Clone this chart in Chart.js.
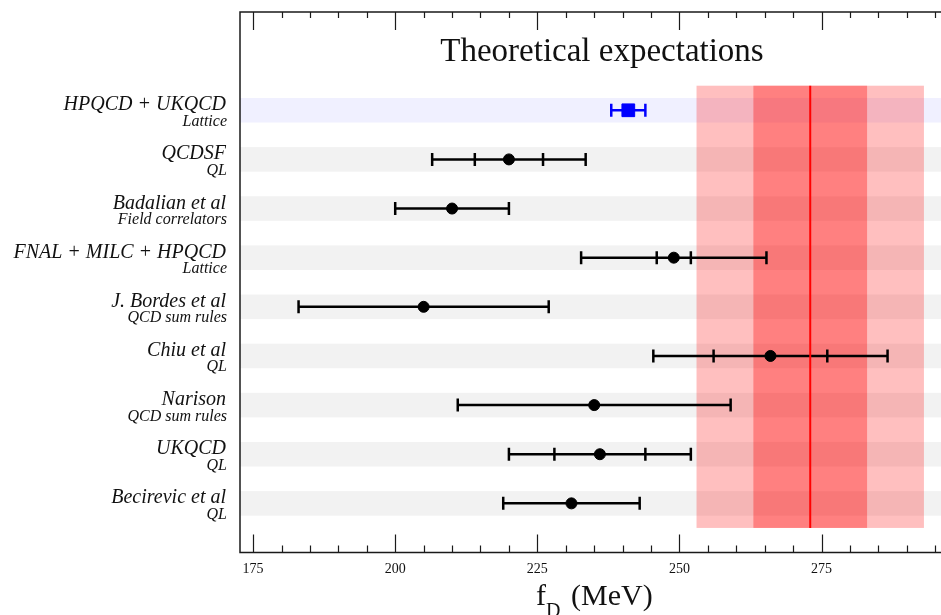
<!DOCTYPE html>
<html>
<head>
<meta charset="utf-8">
<script src="https://cdn.jsdelivr.net/npm/chart.js@4.4.1/dist/chart.umd.min.js"></script>
<style>
  html, body { margin: 0; padding: 0; background: #fff; overflow: hidden; }
  canvas { display: block; }
</style>
</head>
<body>
<canvas id="chart" width="941" height="615"></canvas>
<script>
// ---- data ----
const experiments = ['HPQCD + UKQCD', 'QCDSF', 'Badalian et al', 'FNAL + MILC + HPQCD',
  'J. Bordes et al', 'Chiu et al', 'Narison', 'UKQCD', 'Becirevic et al'];
const methods = ['Lattice', 'QL', 'Field correlators', 'Lattice',
  'QCD sum rules', 'QL', 'QCD sum rules', 'QL', 'QL'];
const fDs = [241, 220, 210, 249, 205, 266, 235, 236, 231];
// inner (statistical) error, null when only one error is shown
const statErr = [null, 6, null, 3, null, 10, null, 8, null];
const totalErr = [3, 13.5, 10, 16.3, 22, 20.6, 24, 16, 12];

const expValue = 273;
const expBands = [20, 10];   // outer and inner band half widths
const xTicks = [175, 200, 225, 250, 275];
const minorStep = 5;

const serif = "'Liberation Serif', 'DejaVu Serif', serif";
const rowY = i => i + 2;

// ---- datasets ----
const datasets = [];

// central values
datasets.push({
  data: fDs.map((v, i) => ({ x: v, y: rowY(i) })),
  pointStyle: fDs.map((v, i) => i === 0 ? 'rect' : 'circle'),
  pointRadius: fDs.map((v, i) => i === 0 ? 9 : 5.5),
  pointBackgroundColor: fDs.map((v, i) => i === 0 ? '#0000ff' : '#000'),
  pointBorderColor: fDs.map((v, i) => i === 0 ? '#0000ff' : '#000'),
  pointBorderWidth: 1
});

// experimental central line
datasets.push({
  data: [{ x: expValue, y: 1.5 }, { x: expValue, y: 10.5 }],
  showLine: true,
  borderColor: '#ff0000',
  borderWidth: 2,
  pointRadius: 0
});

// error bars with caps
experiments.forEach((name, i) => {
  const col = i === 0 ? '#0000ff' : '#000';
  const xs = [fDs[i] - totalErr[i]];
  if (statErr[i]) xs.push(fDs[i] - statErr[i], fDs[i] + statErr[i]);
  xs.push(fDs[i] + totalErr[i]);
  datasets.push({
    data: xs.map(x => ({ x: x, y: rowY(i) })),
    showLine: true,
    borderColor: col,
    borderWidth: 2.5,
    pointStyle: 'line',
    pointRotation: 90,
    pointRadius: 6.5,
    pointBorderColor: col,
    pointBorderWidth: 2.5
  });
});

// ---- drawing helpers ----
const backgroundPlugin = {
  id: 'background',
  beforeDatasetsDraw(chart) {
    const { ctx, chartArea: a, scales: { x, y } } = chart;
    ctx.save();
    // row bands
    experiments.forEach((name, i) => {
      const y1 = y.getPixelForValue(rowY(i) - 0.25);
      const y2 = y.getPixelForValue(rowY(i) + 0.25);
      ctx.fillStyle = i === 0 ? '#f0f0ff' : '#f2f2f2';
      ctx.fillRect(a.left, y1, a.right - a.left, y2 - y1);
    });
    // experimental bands
    const yt = y.getPixelForValue(1.5), yb = y.getPixelForValue(10.5);
    const alphas = [0.25, 0.333];
    expBands.forEach((w, k) => {
      const x1 = x.getPixelForValue(expValue - w);
      const x2 = x.getPixelForValue(expValue + w);
      ctx.fillStyle = 'rgba(255,0,0,' + alphas[k] + ')';
      ctx.fillRect(x1, yt, x2 - x1, yb - yt);
    });
    ctx.restore();
  },
  afterDatasetsDraw(chart) {
    const { ctx, chartArea: a, scales: { x, y } } = chart;
    ctx.save();
    // frame
    ctx.strokeStyle = '#1a1a1a';
    ctx.lineWidth = 1.5;
    ctx.beginPath();
    ctx.moveTo(a.right + 5, a.top); ctx.lineTo(a.left, a.top);
    ctx.lineTo(a.left, a.bottom); ctx.lineTo(a.right + 5, a.bottom);
    ctx.stroke();
    // inward ticks top and bottom
    ctx.lineWidth = 1.2;
    for (let v = xTicks[0]; v <= x.max; v += minorStep) {
      const px = Math.round(x.getPixelForValue(v)) + 0.5;
      const major = (v - xTicks[0]) % 25 === 0;
      ctx.beginPath();
      ctx.moveTo(px, a.bottom); ctx.lineTo(px, a.bottom - (major ? 18 : 7));
      ctx.moveTo(px, a.top); ctx.lineTo(px, a.top + (major ? 18 : 6));
      ctx.stroke();
    }
    // tick labels
    ctx.fillStyle = '#111';
    ctx.font = '14px ' + serif;
    ctx.textAlign = 'center';
    ctx.textBaseline = 'alphabetic';
    xTicks.forEach(v => ctx.fillText(String(v), x.getPixelForValue(v), 573));
    // row labels
    ctx.textAlign = 'right';
    experiments.forEach((name, i) => {
      const py = y.getPixelForValue(rowY(i));
      ctx.font = 'italic 20px ' + serif;
      ctx.fillText(name, 226, py);
      ctx.font = 'italic 16px ' + serif;
      ctx.fillText(methods[i], 227, py + 15.5);
    });
    // title inside the plot
    ctx.textAlign = 'center';
    ctx.font = '33px ' + serif;
    ctx.fillText('Theoretical expectations', 602, 61);
    // axis title f_{D_s}(MeV)
    ctx.textAlign = 'left';
    ctx.font = '30px ' + serif;
    ctx.fillText('f', 536, 605);
    ctx.font = '20px ' + serif;
    ctx.fillText('D', 546, 617);
    ctx.font = '15px ' + serif;
    ctx.fillText('s', 561, 622);
    ctx.font = '30px ' + serif;
    ctx.fillText('(MeV)', 571, 605);
    ctx.restore();
  }
};

const config = {
  type: 'scatter',
  data: { datasets: datasets },
  options: {
    responsive: false,
    animation: false,
    layout: { autoPadding: false, padding: { left: 240, top: 12, right: 0, bottom: 62.5 } },
    plugins: { legend: { display: false }, tooltip: { enabled: false } },
    scales: {
      x: { type: 'linear', min: 172.7, max: 296, display: false },
      y: { type: 'linear', min: 0, max: 11, reverse: true, display: false }
    }
  },
  plugins: [backgroundPlugin]
};

const chart = new Chart(document.getElementById('chart'), config);
</script>
</body>
</html>
